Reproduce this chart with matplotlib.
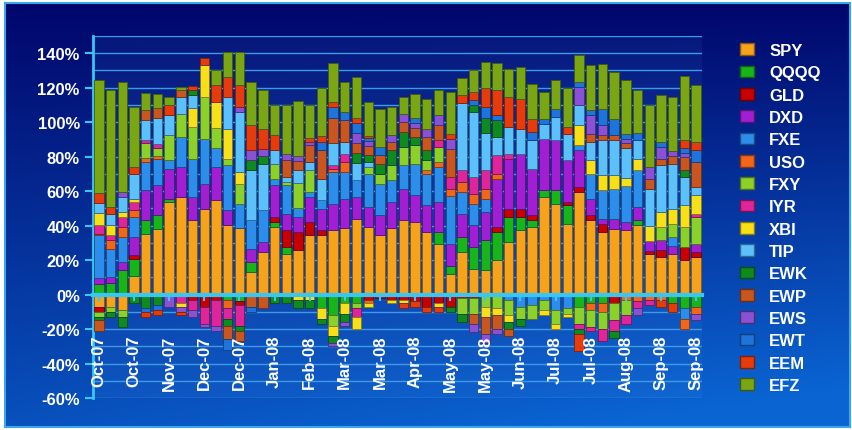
import numpy as np
import matplotlib.pyplot as plt
from matplotlib.patches import Patch
from matplotlib.colors import to_rgb

plt.rcParams['font.family'] = ['Liberation Sans', 'DejaVu Sans']

tickers = ['SPY', 'QQQQ', 'GLD', 'DXD', 'FXE', 'USO', 'FXY', 'IYR',
           'XBI', 'TIP', 'EWK', 'EWP', 'EWS', 'EWT', 'EEM', 'EFZ']
colors = ['#F7A21B', '#19B419', '#C80000', '#A21ED2', '#2C8EEA', '#F2661A',
          '#8CD02A', '#E0249A', '#F8E018', '#5CC0FA', '#0E8A1E', '#C8561E',
          '#8A52D2', '#1E74DA', '#E63C0C', '#7AA614']

date_labels = ['Oct-07', 'Oct-07', 'Nov-07', 'Dec-07', 'Dec-07', 'Jan-08',
               'Feb-08', 'Mar-08', 'Mar-08', 'Apr-08', 'May-08', 'May-08',
               'Jun-08', 'Jul-08', 'Jul-08', 'Aug-08', 'Sep-08', 'Sep-08']

# weekly weights in %, one value per bar (52 weeks)
spy = [-7, -7, -9, 11, 35.3, 38.2, 53.7, 56.6, 43, 49.8, 54.7, 40.1, 38.6, 13, 24.6, 39.1,
       23.6, 25.6, 34.3, 34.3, 37.2, 38.6, 44, 39.1, 34.7, 38.6, 43, 42, 36.2, 29.5, 12, 24.6,
       14.9, 14, 19.8, 30.4, 37.2, 39.1, 56.6, 52.7, 41, 59.5, 43, 36.2, 38.2, 37.2, 40.1, 23.6,
       21.7, 23.6, 19.8, 21.7]
qqqq = [6.2, 6.8, 14, 9.7, 7.8, 7.8, 2, 0, 0, 0, 0, -3, -4, 5.8, 0, 2.9,
        3.9, 0, 0, -8, -12, -5, -5, 0, 0, 0, 0, 0, 0, 6.8, 4.8, 8.7,
        12.6, 17.4, 16.5, 14.5, 7.8, 3.9, 3.9, 7.8, 10.7, -7, -5, -5, 0, 0, 2.9, 0,
        0, -5, -8, -7]
gld = [-3, 0, 0, 2, 0, 0, 0, 0, -3, -7, -3, 0, -2, 0, 0, 2.9,
       9.7, 10.7, 7.8, 2.9, 0, 0, 0, -3, -2, -3, -3, -4, -7, -5, -7, -2,
       -2, 0, 2.9, 4.8, 4.8, 2.9, 0, 0, 2, 2.9, 2.9, 4.8, -5, 0, 0, 1.9,
       3.9, 0, 7.8, 2.9]
dxd = [3.3, 3.3, 4.8, 10.7, 17.4, 17.4, 17.4, 17.4, 13.6, 14.5, 19.4, 8.7, 0, 7.8, 5.8, 18.4,
       9.7, 8.7, 14.5, 12.6, 15.5, 17, 12.6, 11.6, 11.2, 15.1, 18.4, 15.5, 15.5, 17.4, 12.6, 13.6,
       12.6, 16.5, 28, 29, 32, 27, 30, 29, 24.2, 21.3, 9.7, 2.9, 5.8, 4.8, 7.8, 5.8,
       5.8, 4.8, 0, 4.8]
fxe = [24.8, 16.5, 14.5, 11.6, 16.5, 15.5, 4.8, 17.4, 22.3, 26.2, 10.7, 26.2, 14.1, 16.5, 18.4, 3.9,
       16.5, 5, 3, 4.8, 18.4, 15.5, 10, 19.4, 18.4, 12.6, 13.6, 18.4, 18.4, 20.3, 28, 12.6,
       12.6, 7.8, 0, -3, -7, -6, -3, -9, -8, 2.9, 14.5, 16.5, 17.4, 21, 21.3, 0,
       0, 4.8, -6, 0]
uso = [1, 4.8, 5.8, 3.9, 2, 1.5, 0, 0, 0, 0, 0, -5, 0, 0, 0, 0,
       0, 0, 0, 0, 2, 5.8, 0, -2, 0, 0, 0, 0, 2, 2.9, 3.9, 5.8,
       5.8, 5.8, 2.9, 0, 0, 0, 0, 0, 0, 0, -4, -5, 0, -3, -4, -3,
       -3, 0, -6, -4]
fxy = [-3, -3, -4, 0, 8.7, 4.8, 14.5, 13.6, 18.4, 24.2, 11.6, 3.9, 11.6, 0, 0, 8.7,
       1.9, 14.5, 12.6, 0, -6, 0, -3, 3.9, 5.8, 8.7, 10.7, 10.7, 5.8, 8.7, 0, -9,
       -9, -7, -8, -9, -7, -8, -6, -8, -3, -10, -10, -10, -10, -9, 0, 0,
       7.8, 7.8, 11.6, 15.5]
iyr = [5, 3, 5.8, 4.8, 2, 2, 0, -5, -6, -10, -15, -6, -12, 0, 0, 0,
       0, 0, 0, 0, 2, 4.8, -5, 0, 0, 0, 0, 0, 0, 3.9, 6.8, 6.8,
       9.7, 10.7, 10.7, 2.9, 0, 0, 0, 0, 0, -3, -2, -7, -6, -5, -4, -3,
       0, 0, 0, 1.9]
xbi = [6.8, 5.8, 2.9, 2, 0, 0, 0, -2, 10.7, 18.4, 15.5, 17.4, 6.8, 0, 0, 0,
       0, -3, -3, -6, -6, -6, -7, -2, 0, -2, -2, 0, 0, -2, 0, 0,
       0, -6, -4, -4, 0, 0, -3, -3, -2, 11.6, 7.8, 8.7, 7.8, 4.8, 6.8, 8.7,
       8.7, 8.7, 12.6, 10.7]
tip = [5.8, 6.8, 8.7, 14.5, 11.6, 15.5, 11.6, 9.7, 7.8, 0, 0, 18.4, 34.9, 29, 27, 7.8,
       2.9, 8, 4.8, 12.6, 12.6, 6.8, 10, 3, 0, 0, 0, 0, 0, 0, 0, 38.8,
       37.8, 21.3, 10.7, 15.5, 14.5, 16.5, 8.7, 13.6, 15.5, 11.6, 10.7, 20.3, 20.3, 17.4, 10.7, 21.3,
       27, 26, 16.5, 4.8]
ewk = [-2, -3, -6, -5, -8, -6, 0, 0, 2.9, 0, 0, -4, -3, 5.8, 4.8, -5,
       -5, -5, -5, -3, -4, -5, 5.8, 4, 5.8, 8.7, 8.7, 5, 5.8, 0, -3, -5,
       3.9, 8.7, 9.7, -4, -4, 0, 0, 0, 0, -3, 0, 0, -4, 0, 0, 0,
       0, 0, 3.9, 0]
ewp = [-6, 0, 0, 0, 5.8, 5.8, 0, 3.9, 0, 0, 0, -8, -6, -7, -8, 0,
       9.7, 5, 9.7, 16.5, 14.5, 12.6, 5.8, 5, 4.8, 4.8, 5.8, 5, 7.8, 8.7, 16.5, 0,
       -6, -10, -8, -4, 0, 0, 0, 0, 0, 0, 4.8, 2.9, 2.9, 3, 0, 5.8,
       3.9, 4.8, 7.8, 14.5]
ews = [0, 0, 2.9, 0, 0, 0, -7, -3, -4, -2, -3, 0, 2.9, 5.8, 3.9, 0,
       3.9, 3, 2, 0, -2, -2, 5.8, 3, 0, 3.9, 4.8, 3, 4.8, 5.8, 5.8, 0,
       -5, -5, -3, 0, 0, 0, 0, 0, 0, 10.7, 10.7, 5.8, 0, 2, -4, 6.8,
       6.8, 3, 2, -4]
ewt = [0, 0, 0, 0, -2, -3, 0, 0, 0, 0, 0, -6, 0, -3, 0, 0,
       0, 0, 0, 5, 6.8, 4.8, 5.8, 2, 4.8, 0, 0, 3, 0, 0, 0, 0,
       3, 6.8, 2.9, 0, 0, 4.8, 2.9, 4.8, 0, 2.9, 2.9, 9.7, 9.7, 3, 3.9, 0,
       2.9, 0, 3, 6.8]
eem = [5.8, 3.9, 0, 3.9, -3, -3, 5.8, -2, 2.3, 3.9, 9.7, 11.6, 12.6, 14.5, 11.6, 8.7,
       0, 0, 2, 3, 2.9, 0, 2.9, 1, 0, 0, -3, -3, -3, -3, 2.9, 4.8,
       4.8, 10.7, 14.5, 17.4, 17.4, 7.8, 0, 0, 3.9, -10, 0, 0, 0, 0, 0, 0,
       -4, -5, 4.8, 4.8]
efz = [66, 68, 64, 35, 9.7, 7.8, 4.8, 2, 0, 0, 8.7, 14.5, 19.4, 25.2, 22.3, 17.4,
       28, 31.6, 19.4, 28, 22.3, 17.4, 23.3, 20, 22.3, 16.5, 9.7, 13.6, 17.4, 14.5, 24.2, 9.7,
       12.6, 15.5, 15.5, 16.5, 18.4, 20.3, 15.5, 16.5, 22.3, 15.5, 26, 26, 27, 31, 25.2, 35.9,
       27, 31, 36.8, 33]

series = [spy, qqqq, gld, dxd, fxe, uso, fxy, iyr, xbi, tip, ewk, ewp, ews, ewt, eem, efz]


def darker(c, f=0.55):
    return tuple(v * f for v in to_rgb(c))


fig = plt.figure(figsize=(8.52, 4.31), dpi=100, facecolor='white')

# blue gradient backdrop with a light border
bg = fig.add_axes([5 / 852, 3 / 431, 845 / 852, 424 / 431])
yy, xx = np.mgrid[0:1:200j, 0:1:400j]
t = np.clip(0.8 * yy + 0.3 * xx * yy, 0, 1)
top_c = np.array(to_rgb('#01066b'))
bot_c = np.array(to_rgb('#0a64d2'))
bg.imshow(top_c + (bot_c - top_c) * t[..., None], aspect='auto', extent=(0, 1, 0, 1))
bg.set_xticks([])
bg.set_yticks([])
for s in bg.spines.values():
    s.set_color('#3aa6ee')
    s.set_linewidth(1.5)

ax = fig.add_axes([93 / 852, 32 / 431, 609 / 852, 362 / 431])
ax.set_facecolor((0.35, 0.65, 1.0, 0.08))

x = np.arange(len(spy))
pos_bottom = np.zeros(len(x))
neg_bottom = np.zeros(len(x))
for vals, c in zip(series, colors):
    v = np.array(vals, dtype=float)
    m = v > 0
    ax.bar(x[m], v[m], 0.8, bottom=pos_bottom[m], color=c,
           edgecolor=darker(c), linewidth=0.6, zorder=3)
    pos_bottom[m] += v[m]
    m = v < 0
    ax.bar(x[m], v[m], 0.8, bottom=neg_bottom[m], color=c,
           edgecolor=darker(c), linewidth=0.6, zorder=3)
    neg_bottom[m] += v[m]

ax.set_xlim(-0.5, 51.5)
ax.set_ylim(-60, 150)
ax.set_yticks(range(-60, 141, 20))
ax.set_yticklabels([f'{v}%' for v in range(-60, 141, 20)])
ax.set_yticks(range(-60, 151, 10), minor=True)
ax.grid(which='both', axis='y', color='#3d9be6', linewidth=1)
ax.set_axisbelow(True)

ax.set_xticks(np.arange(0, 52, 3))
ax.set_xticklabels(date_labels)
# date labels sit on top of the negative bars
ax.xaxis.set_zorder(6)

for s in ['top', 'right']:
    ax.spines[s].set_visible(False)
ax.spines['bottom'].set_position(('data', 0))
ax.spines['bottom'].set_color('#38c6f2')
ax.spines['bottom'].set_linewidth(3)
ax.spines['bottom'].set_zorder(5)
ax.spines['left'].set_color('#38c6f2')
ax.spines['left'].set_linewidth(2)

ax.tick_params(axis='y', which='major', colors='#38c6f2', length=6, width=1.5,
               labelcolor='white', labelsize=12)
ax.tick_params(axis='y', which='minor', length=0)
ax.tick_params(axis='x', colors='#38c6f2', length=4, width=1.5, pad=25,
               labelcolor='white', labelsize=12, labelrotation=90)
for lab in ax.get_xticklabels() + ax.get_yticklabels():
    lab.set_fontweight('bold')

handles = [Patch(facecolor=c, edgecolor=darker(c)) for c in colors]
fig.legend(handles, tickers, loc='upper left', bbox_to_anchor=(740 / 852, 1 - 44 / 431),
           frameon=False, prop={'weight': 'bold', 'size': 12}, labelcolor='white',
           handlelength=0.85, handleheight=0.7, handletextpad=0.9, labelspacing=0.44,
           borderpad=0, borderaxespad=0)

fig.savefig('out.png', dpi=100, facecolor='white')
